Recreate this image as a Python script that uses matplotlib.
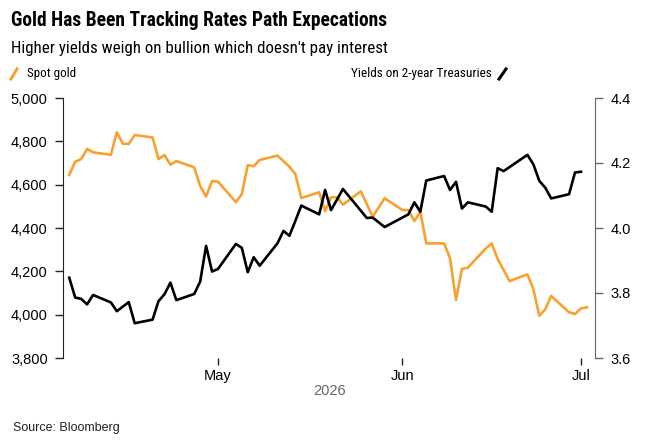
import numpy as np
import pandas as pd
import matplotlib
matplotlib.use("Agg")
import matplotlib.pyplot as plt
import matplotlib.dates as mdates
from matplotlib import font_manager as fm
from matplotlib.lines import Line2D

# spot gold (left axis), USD/oz
gold_dates = ["2026-04-06", "2026-04-07", "2026-04-08", "2026-04-09", "2026-04-10",
              "2026-04-13", "2026-04-14", "2026-04-15", "2026-04-16", "2026-04-17",
              "2026-04-20", "2026-04-21", "2026-04-22", "2026-04-23", "2026-04-24",
              "2026-04-27", "2026-04-28", "2026-04-29", "2026-04-30", "2026-05-01",
              "2026-05-04", "2026-05-05", "2026-05-06", "2026-05-07", "2026-05-08",
              "2026-05-11", "2026-05-12", "2026-05-13", "2026-05-14", "2026-05-15",
              "2026-05-18", "2026-05-19", "2026-05-20", "2026-05-21", "2026-05-22",
              "2026-05-25", "2026-05-27", "2026-05-29",
              "2026-06-01", "2026-06-02", "2026-06-03", "2026-06-04", "2026-06-05",
              "2026-06-08", "2026-06-09", "2026-06-10", "2026-06-11", "2026-06-12",
              "2026-06-15", "2026-06-16", "2026-06-17", "2026-06-19",
              "2026-06-22", "2026-06-23", "2026-06-24", "2026-06-25", "2026-06-26",
              "2026-06-29", "2026-06-30", "2026-07-01", "2026-07-02"]
gold = [4645, 4706, 4718, 4765, 4749,
        4738, 4842, 4789, 4788, 4829,
        4818, 4718, 4737, 4692, 4709,
        4680, 4594, 4545, 4617, 4614,
        4520, 4556, 4690, 4685, 4714,
        4734, 4709, 4683, 4649, 4538,
        4565, 4478, 4542, 4542, 4508,
        4569, 4452, 4537,
        4483, 4483, 4432, 4475, 4329,
        4329, 4260, 4068, 4211, 4217,
        4306, 4329, 4257, 4155,
        4186, 4118, 3995, 4025, 4086,
        4011, 4003, 4029, 4034]

# 2-year treasury yield (right axis), %
yld_dates = ["2026-04-06", "2026-04-07", "2026-04-08", "2026-04-09", "2026-04-10",
             "2026-04-13", "2026-04-14", "2026-04-16", "2026-04-17",
             "2026-04-20", "2026-04-21", "2026-04-22", "2026-04-23", "2026-04-24",
             "2026-04-27", "2026-04-28", "2026-04-29", "2026-04-30", "2026-05-01",
             "2026-05-04", "2026-05-05", "2026-05-06", "2026-05-07", "2026-05-08",
             "2026-05-11", "2026-05-12", "2026-05-13", "2026-05-14", "2026-05-15",
             "2026-05-18", "2026-05-19", "2026-05-20", "2026-05-22",
             "2026-05-26", "2026-05-27", "2026-05-29",
             "2026-06-02", "2026-06-03", "2026-06-04", "2026-06-05",
             "2026-06-08", "2026-06-09", "2026-06-10", "2026-06-11", "2026-06-12",
             "2026-06-15", "2026-06-16", "2026-06-17", "2026-06-18",
             "2026-06-22", "2026-06-23", "2026-06-24", "2026-06-25", "2026-06-26",
             "2026-06-29", "2026-06-30", "2026-07-01"]
yld = [3.847, 3.786, 3.782, 3.765, 3.794,
       3.771, 3.744, 3.772, 3.707,
       3.718, 3.775, 3.796, 3.832, 3.778,
       3.797, 3.835, 3.945, 3.866, 3.874,
       3.951, 3.939, 3.864, 3.910, 3.884,
       3.953, 3.991, 3.976, 4.022, 4.069,
       4.042, 4.117, 4.055, 4.120,
       4.031, 4.032, 4.003,
       4.042, 4.079, 4.050, 4.146,
       4.160, 4.117, 4.142, 4.060, 4.079,
       4.066, 4.050, 4.184, 4.175,
       4.225, 4.196, 4.145, 4.124, 4.091,
       4.104, 4.171, 4.173]

gold_ticks = [3800, 4000, 4200, 4400, 4600, 4800, 5000]
yld_ticks = [3.6, 3.8, 4.0, 4.2, 4.4]
month_ticks = ["2026-05-01", "2026-06-01", "2026-07-01"]
month_labels = ["May", "Jun", "Jul"]

ORANGE = "#F9A12E"
FONT = "Liberation Sans"
plt.rcParams["font.family"] = FONT


def pick_font(cands):
    # first narrow family that is really installed, else plain Liberation
    for c in cands:
        try:
            fm.findfont(fm.FontProperties(family=c), fallback_to_default=False)
            return c
        except Exception:
            pass
    return FONT


NARROW = pick_font(["Roboto Condensed", "Liberation Sans Narrow"])

W, H = 650, 442
fig = plt.figure(figsize=(W / 100, H / 100), dpi=100)
ax = fig.add_axes([63 / W, 1 - 358 / H, 532 / W, 260 / H])
ax2 = ax.twinx()

gd = pd.to_datetime(gold_dates)
yd = pd.to_datetime(yld_dates)
ax.plot(gd, gold, color=ORANGE, lw=1.9, zorder=3)
ax2.plot(yd, yld, color="black", lw=1.9, zorder=3)

may1 = mdates.date2num(pd.Timestamp("2026-05-01"))
ax.set_xlim(may1 - 26.05, may1 + 63.36)
ax.set_ylim(3800, 5000)
ax2.set_ylim(3.6, 4.4)

ax.set_yticks(gold_ticks)
ax.set_yticklabels([f"{v:,}" for v in gold_ticks])
ax2.set_yticks(yld_ticks)
ax2.set_yticklabels([f"{v:.1f}" for v in yld_ticks])
ax.set_xticks(pd.to_datetime(month_ticks))
ax.set_xticklabels(month_labels)

for a in (ax, ax2):
    for s in ("top", "bottom"):
        a.spines[s].set_visible(False)
ax.spines["right"].set_visible(False)
ax2.spines["left"].set_visible(False)
ax.spines["left"].set_color("#222222")
ax2.spines["right"].set_color("#666666")

ax.tick_params(axis="y", length=6, width=1, color="#222222", labelsize=10.5, pad=5)
ax2.tick_params(axis="y", length=6, width=1, color="#666666", labelsize=10.5, pad=5)
ax.tick_params(axis="x", length=5, width=1, color="#222222", labelsize=10.5, pad=3)

fig.text(330 / W, 1 - 391 / H, "2026", ha="center", va="center",
         fontsize=10.5, color="#666666")

renderer = fig.canvas.get_renderer()


def fit_text(x, y, s, width_px, ha="left", **kw):
    t = fig.text(x / W, 1 - y / H, s, ha=ha, va="center", family=NARROW, **kw)
    w = t.get_window_extent(renderer).width
    t.set_fontsize(t.get_fontsize() * width_px / w)
    return t


fit_text(11, 20, "Gold Has Been Tracking Rates Path Expecations", 376,
         weight="bold", fontsize=15)
fit_text(11, 48, "Higher yields weigh on bullion which doesn't pay interest", 375,
         fontsize=13)
fit_text(27, 74, "Spot gold", 49, fontsize=11)
fit_text(492, 74, "Yields on 2-year Treasuries", 141, ha="right", fontsize=11)
fig.add_artist(Line2D([11 / W, 17 / W], [1 - 79 / H, 1 - 69 / H], color=ORANGE,
                      lw=2.2, transform=fig.transFigure))
fig.add_artist(Line2D([499 / W, 506 / W], [1 - 79 / H, 1 - 69 / H], color="black",
                      lw=2.2, transform=fig.transFigure))

fig.text(13 / W, 1 - 428 / H, "Source: Bloomberg", fontsize=9, va="center",
         ha="left", color="#222222")

fig.savefig("out.png", dpi=100)
